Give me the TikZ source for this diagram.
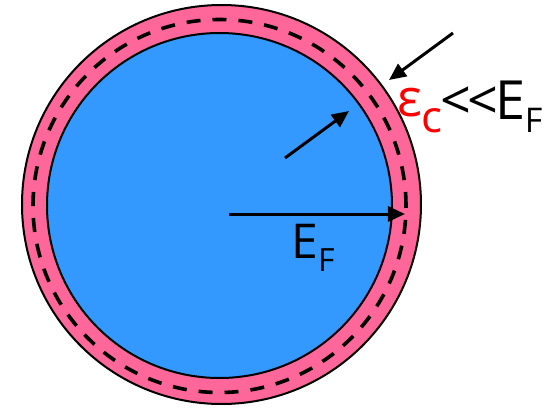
\documentclass[tikz,border=0pt]{standalone}
\usepackage{fontspec}
\setmainfont{Open Sans}
\usetikzlibrary{arrows.meta}
\definecolor{shellPink}{HTML}{FF6699}
\definecolor{seaBlue}{HTML}{3399FF}
\definecolor{gapRed}{HTML}{FF0000}

\begin{document}
\begin{tikzpicture}[x=0.5pt,y=-0.5pt]
  \tikzset{
    disc/.style={circle,inner sep=0pt,outer sep=0pt,line width=1pt},
    vec/.style={-{Triangle[length=8.5pt,width=7.5pt]},line width=1.5pt,black},
    lbl/.style={anchor=base west,inner sep=0pt}
  }
  \useasboundingbox (0,0) rectangle (554,408);

  \node[disc,draw=black,fill=shellPink,minimum size=199.5pt] (shell) at (221.5,204.5) {};
  \node[disc,draw=black,dashed,dash pattern=on 7pt off 6pt,line width=1.8pt,minimum size=186.5pt] (surface) at (219.5,206) {};
  \node[disc,draw=black,fill=seaBlue,minimum size=172.5pt] (sea) at (219.5,205.5) {};

  \coordinate (kIn) at (229,214);
  \coordinate (kOut) at (405,214);
  \coordinate (kMid) at (285,158);
  \coordinate (kEdge) at (349,111);
  \coordinate (kFar) at (453,33);
  \coordinate (kShell) at (389,80);

  \draw[vec] (kIn) -- (kOut);
  \draw[vec] (kMid) -- (kEdge);
  \draw[vec] (kFar) -- (kShell);

  \node[lbl] (fermiLbl) at (291,258)
    {\fontsize{24}{24}\selectfont E\raisebox{-6.5pt}{\fontsize{16}{16}\selectfont F}};
  \node[lbl] (gapLbl) at (397,119)
    {\fontsize{27}{27}\selectfont\textcolor{gapRed}{\raisebox{1.5pt}{\fontsize{26}{26}\selectfont ε}\kern-0.5pt\raisebox{-6.5pt}{\fontsize{22}{22}\selectfont c}}\kern-1pt\mbox{<}\kern-1.5pt\mbox{<}\kern-1.5pt E\kern-0.5pt\raisebox{-6.5pt}{\fontsize{17}{17}\selectfont F}};
\end{tikzpicture}
\end{document}
